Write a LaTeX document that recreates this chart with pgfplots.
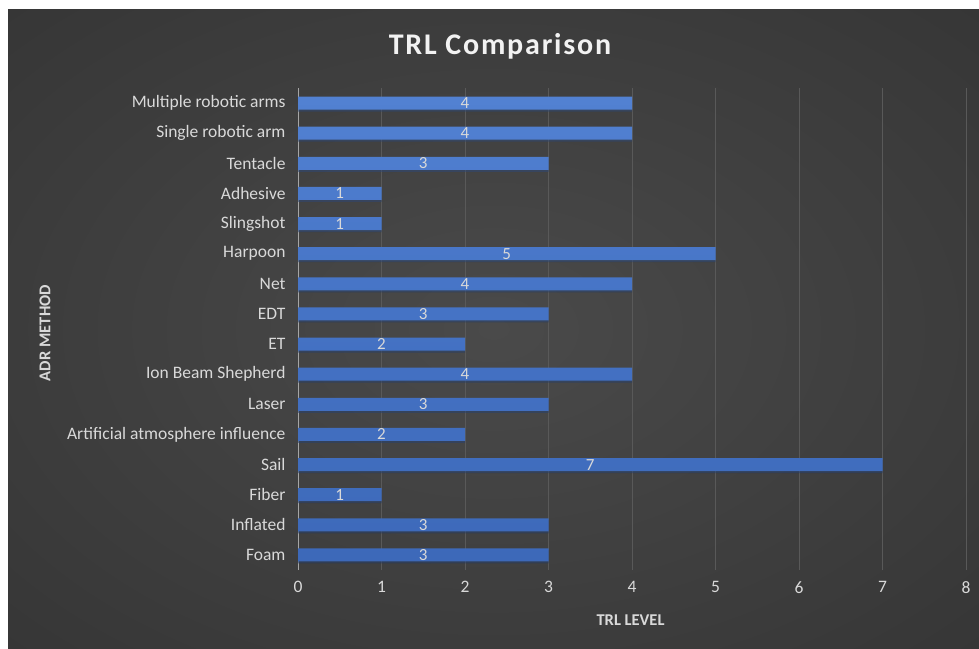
\documentclass[border=0pt]{standalone}
\usepackage{fontspec}
\setmainfont{Carlito}
\usepackage{pgfplots}
\pgfplotsset{compat=1.18}
\usepackage{pgfplotstable}

\definecolor{barblue}{HTML}{4472C4}
\definecolor{barlight}{HTML}{5281D2}
\definecolor{bardark}{HTML}{3D69B9}
\definecolor{txt}{HTML}{D9D9D9}
\definecolor{titlec}{HTML}{F2F2F2}
\definecolor{gridc}{HTML}{595959}
\definecolor{axisc}{HTML}{A6A6A6}

% dark chart area with a soft lighter glow in the middle
\pgfdeclareradialshading{bgglow}{\pgfpoint{0bp}{0bp}}{%
  gray(0bp)=(0.29); gray(50bp)=(0.18); gray(71bp)=(0.13); gray(100bp)=(0.13)}

% TRL per ADR method (y = category index, bottom to top)
\pgfplotstableread{
y v
0 3
1 3
2 1
3 7
4 2
5 3
6 4
7 2
8 3
9 4
10 5
11 1
12 1
13 3
14 4
15 4
}\trldata

\begin{document}
\begin{tikzpicture}[x=1pt,y=1pt]
\fill[white] (0,0) rectangle (979,648);
\shade[shading=bgglow] (8,0) rectangle (979,638);
\node[font=\bfseries\fontsize{30}{36}\selectfont\addfontfeatures{LetterSpace=6}, text=titlec]
  at (500,602) {TRL Comparison};
\begin{axis}[
  at={(298pt,78pt)}, anchor=south west,
  scale only axis, width=668pt, height=482pt,
  xmin=0, xmax=8, ymin=-0.5, ymax=15.5,
  xtick={0,1,...,8},
  ytick={0,1,...,15},
  yticklabels={Foam,Inflated,Fiber,Sail,Artificial atmosphere influence,Laser,
    Ion Beam Shepherd,ET,EDT,Net,Harpoon,Slingshot,Adhesive,Tentacle,
    Single robotic arm,Multiple robotic arms},
  major tick length=0pt,
  xmajorgrids, grid style={draw=gridc, line width=0.8pt},
  separate axis lines,
  axis x line*=bottom, x axis line style={draw=none},
  axis y line*=left, y axis line style={draw=axisc, line width=1pt, -},
  /pgf/number format/assume math mode=true,
  tick label style={font=\fontsize{17.5}{20}\selectfont, text=txt},
  xticklabel style={yshift=-8pt},
  yticklabel style={xshift=-9pt},
  xlabel={TRL LEVEL}, ylabel={ADR METHOD},
  every axis x label/.style={at={(axis description cs:0.4978,-0.1037)}, anchor=center,
    font=\bfseries\fontsize{16.5}{20}\selectfont, text=txt},
  every axis y label/.style={at={(axis description cs:-0.3787,0.4917)}, rotate=90, anchor=center,
    font=\bfseries\fontsize{16.5}{20}\selectfont, text=txt},
  clip=false,
]
\addplot[xbar, bar width=13pt, draw=none,
  top color=barlight, bottom color=bardark, middle color=barblue,
  preaction={fill=black, fill opacity=0.3, transform canvas={yshift=-2pt}}]
  table[x=v, y=y] {\trldata};
\addplot[only marks, mark=none, nodes near coords, point meta=explicit symbolic,
  every node near coord/.append style={anchor=center, text=txt,
    font=\fontsize{17}{20}\selectfont}]
  table[x expr=\thisrow{v}/2, y=y, meta=v] {\trldata};
\end{axis}
\end{tikzpicture}
\end{document}
